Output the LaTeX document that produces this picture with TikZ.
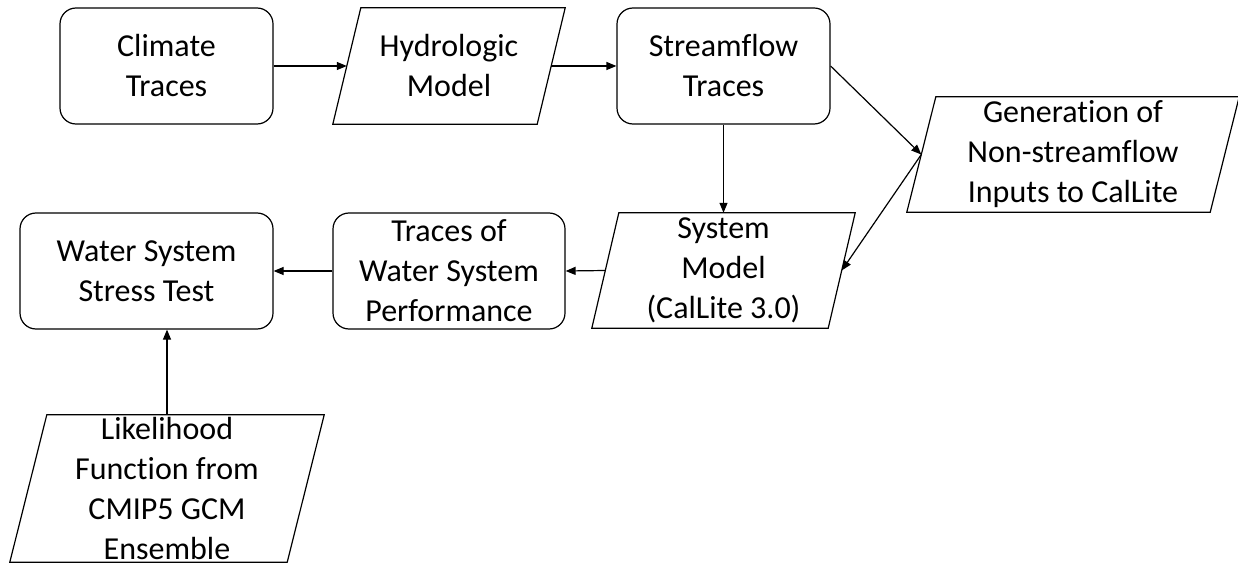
\documentclass[tikz,border=0pt]{standalone}
\usepackage{fontspec}
\setmainfont{Carlito}[Ligatures=NoCommon]
\usetikzlibrary{arrows.meta}
\begin{document}
\begin{tikzpicture}[x=1pt,y=-1pt,
  lbl/.style={align=center, inner sep=0pt, font=\fontsize{32}{40}\selectfont},
  box/.style={lbl, draw, line width=1.2pt, rounded corners=16pt},
  para/.style={lbl},
  outline/.style={draw, line width=1.2pt, line join=miter},
  conn/.style={line width=1.2pt, -{Triangle[length=10pt,width=8pt]}}]
\useasboundingbox (0,0) rectangle (1238,564);
% top row
\node[box, minimum width=213pt, minimum height=116pt] (c) at (166.5,66) {Climate\\Traces};
\node[para, minimum width=204pt, minimum height=116pt] (h) at (449,66) {Hydrologic\\Model};
\node[box, minimum width=213pt, minimum height=116pt] (s) at (723.5,66) {Streamflow\\Traces};
% right
\node[para, minimum width=303pt, minimum height=115pt] (g) at (1073,154.5) {Generation of\\Non-streamflow\\Inputs to CalLite};
% second row
\node[para, minimum width=236pt, minimum height=115pt] (m) at (723.5,270.5) {System\\Model\\(CalLite 3.0)};
\node[box, minimum width=232pt, minimum height=116pt] (t) at (449,271) {Traces of\\Water System\\Performance};
\node[box, minimum width=253pt, minimum height=116pt] (w) at (146.5,271) {Water System\\Stress Test};
% bottom
\node[para, minimum width=277pt, minimum height=147pt] (l) at (167,488.5) {Likelihood\\Function from\\CMIP5 GCM\\Ensemble};
% parallelogram outlines
\foreach \n/\s in {h/14,g/14.5,m/13.5,l/18.5}
  \draw[outline] ([xshift=\s pt]\n.north west) -- ([xshift=\s pt]\n.north east)
     -- ([xshift=-\s pt]\n.south east) -- ([xshift=-\s pt]\n.south west) -- cycle;
% connectors
\draw[conn] (c.east) -- (h.west);
\draw[conn] (h.east) -- (s.west);
\draw[conn] (s.south) -- (m.north);
\draw[conn] (s.east) -- (g.west);
\draw[conn] (g.west) -- (m.east);
\draw[conn] (m.west) -- (t.east);
\draw[conn] (t.west) -- (w.east);
\draw[conn] (l.north) -- (l.north |- w.south);
\end{tikzpicture}
\end{document}
